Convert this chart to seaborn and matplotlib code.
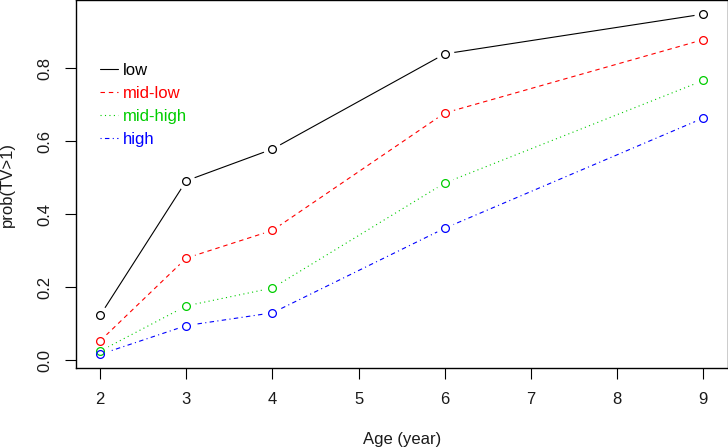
import numpy as np
import pandas as pd
import matplotlib
matplotlib.use("Agg")
import matplotlib.pyplot as plt
from matplotlib.lines import Line2D
import seaborn as sns

# ---- data ----
ages = [2, 3, 4, 6, 9]
groups = ["low", "mid-low", "mid-high", "high"]
low = [0.123, 0.492, 0.579, 0.840, 0.949]
mid_low = [0.053, 0.280, 0.356, 0.678, 0.879]
mid_high = [0.025, 0.149, 0.198, 0.486, 0.767]
high = [0.016, 0.095, 0.130, 0.362, 0.664]
x_ticks = [2, 3, 4, 5, 6, 7, 8, 9]
y_ticks = [0.0, 0.2, 0.4, 0.6, 0.8]

series = {"low": low, "mid-low": mid_low, "mid-high": mid_high, "high": high}
colors = {"low": "black", "mid-low": "#FF0000", "mid-high": "#00CD00", "high": "#0000FF"}
dashes = {"low": "", "mid-low": (4, 3.5), "mid-high": (1, 3), "high": (1, 3, 4, 3)}

df = pd.DataFrame(
    [(a, g, v) for g in groups for a, v in zip(ages, series[g])],
    columns=["age", "group", "prob"],
)

sns.set_style("white")
plt.rcParams["font.family"] = ["Liberation Sans", "DejaVu Sans"]
plt.rcParams["font.size"] = 12

FS = 12
TXT = "#1a1a1a"

fig = plt.figure(figsize=(7.28, 4.48), dpi=100)
ax = fig.add_axes([76 / 728, 80 / 448, 651.5 / 728, 367.5 / 448])

sns.lineplot(
    data=df, x="age", y="prob", hue="group", style="group",
    hue_order=groups, style_order=groups, palette=colors, dashes=dashes,
    linewidth=0.8, legend=False, ax=ax, zorder=2,
)

# white gaps around points (as in R type="b") then open circles
ax.plot(df["age"], df["prob"], linestyle="none", marker="o", markersize=13,
        markerfacecolor="white", markeredgecolor="none", zorder=3)
for g in groups:
    ax.plot(ages, series[g], linestyle="none", marker="o", markersize=5.6,
            markerfacecolor="none", markeredgecolor=colors[g],
            markeredgewidth=0.9, zorder=4)

# R-style 4% axis extension
xmin, xmax = min(ages), max(ages)
allv = low + mid_low + mid_high + high
ymin, ymax = min(allv), max(allv)
ax.set_xlim(xmin - 0.04 * (xmax - xmin), xmax + 0.04 * (xmax - xmin))
ax.set_ylim(ymin - 0.04 * (ymax - ymin), ymax + 0.04 * (ymax - ymin))

ax.set_xticks(x_ticks)
ax.set_xticklabels([str(t) for t in x_ticks])
ax.set_yticks(y_ticks)
ax.set_yticklabels([f"{t:.1f}" for t in y_ticks], rotation=90, va="center")
ax.tick_params(axis="both", which="major", bottom=True, left=True,
               direction="out", length=8, width=0.8,
               color="black", labelsize=FS, labelcolor=TXT)
ax.tick_params(axis="x", pad=9)
ax.tick_params(axis="y", pad=9)

for s in ax.spines.values():
    s.set_visible(True)
    s.set_color("black")
    s.set_linewidth(1.0)

ax.set_xlabel("Age (year)", fontsize=FS, color=TXT, labelpad=18)
ax.set_ylabel("prob(TV>1)", fontsize=FS, color=TXT, labelpad=16)

handles = [Line2D([0], [0], color=colors["low"], lw=0.8, linestyle="-")]
for g in groups[1:]:
    handles.append(Line2D([0], [0], color=colors[g], lw=0.8, dashes=dashes[g]))
leg = ax.legend(handles, groups, loc="upper left", bbox_to_anchor=(0.037, 0.83),
                frameon=False, borderpad=0, borderaxespad=0, handlelength=1.1,
                handletextpad=0.25, labelspacing=0.48, fontsize=FS,
                labelcolor=[colors[g] for g in groups])

fig.savefig("out.png", dpi=100)
